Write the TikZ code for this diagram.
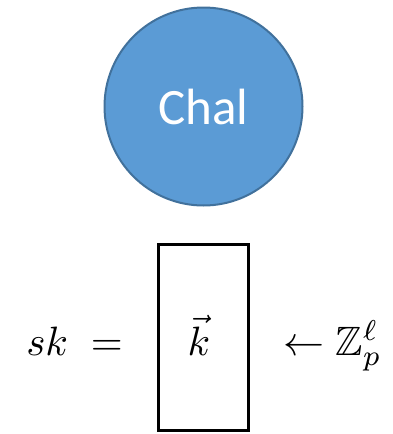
\documentclass[tikz,border=0pt]{standalone}
\usepackage{graphicx}
\usepackage{amssymb}
\usepackage{fontspec}
\newfontfamily\chalfont{Carlito}
\definecolor{chalfill}{HTML}{5B9BD5}
\definecolor{chaledge}{HTML}{41719C}
\newcommand{\bigmath}[1]{\scalebox{4.1}{$#1$}}
\begin{document}
\begin{tikzpicture}[x=1pt, y=-1pt, mathlbl/.style={inner sep=0pt}]
\useasboundingbox (0,0) rectangle (393,434);
\node[circle, draw=chaledge, fill=chalfill, line width=2pt, minimum size=198pt, text=white, font=\chalfont\fontsize{51}{55}\selectfont] (chal) at (203.5,106.5) {Chal};
\node[draw, line width=3pt, minimum width=90pt, minimum height=186pt] (box) at (203.5,337) {};
\node[mathlbl, anchor=base east] (sk) at (123,355) {\bigmath{sk\;=}};
\node[mathlbl, anchor=base] (key) at (199,355) {\bigmath{\vec{k}}};
\node[mathlbl, anchor=base west] (dom) at (283,355) {\bigmath{\leftarrow \mathbb{Z}_p^\ell}};
\end{tikzpicture}
\end{document}
